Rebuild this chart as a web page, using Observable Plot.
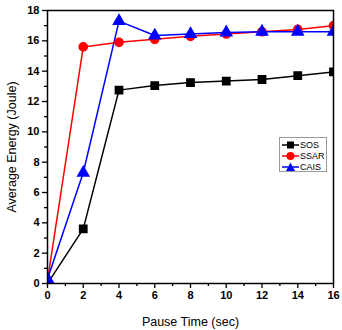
<!DOCTYPE html>
<html><head><meta charset="utf-8">
<script src="https://cdn.jsdelivr.net/npm/d3@7"></script>
<script src="https://cdn.jsdelivr.net/npm/@observablehq/plot@0.6"></script>
<style>
body{margin:0;background:#fff;font-family:"Liberation Sans",Arial,sans-serif}
#wrap{position:relative;width:342px;height:330px}
#legend{position:absolute;left:279px;top:137px;width:48px;height:35px;border:1px solid #999;background:#fff;box-sizing:border-box;padding-top:1px}
.item{display:flex;align-items:center;height:11px;font-size:9px;color:#000}
.item svg{margin-left:2px;margin-right:1px}
</style></head><body><div id="wrap"></div>
<script>
const pauseTimes = [0, 2, 4, 6, 8, 10, 12, 14, 16];
const sos  = [0.0, 3.6, 12.75, 13.05, 13.25, 13.35, 13.45, 13.7, 13.95];
const ssar = [0.2, 15.6, 15.9, 16.1, 16.3, 16.45, 16.6, 16.75, 17.0];
const cais = [0.3, 7.3, 17.3, 16.35, 16.45, 16.55, 16.6, 16.6, 16.6];
const seriesNames = ["SOS", "SSAR", "CAIS"];
const seriesColors = ["black", "red", "blue"];
const seriesSymbols = ["square", "circle", "triangle"];
const xTicks = [0, 2, 4, 6, 8, 10, 12, 14, 16];
const yTicks = [0, 2, 4, 6, 8, 10, 12, 14, 16, 18];

const values = [sos, ssar, cais];
const rows = [];
values.forEach((arr, s) => arr.forEach((v, i) => rows.push({series: seriesNames[s], x: pauseTimes[i], y: v})));

const colorScale = {domain: seriesNames, range: seriesColors};
const symbolScale = {domain: seriesNames, range: seriesSymbols};

const chart = Plot.plot({
  width: 342, height: 330,
  marginLeft: 47, marginRight: 9, marginTop: 10, marginBottom: 47,
  style: {fontFamily: "'Liberation Sans', Arial, sans-serif", background: "white", overflow: "visible"},
  x: {domain: [0, 16]},
  y: {domain: [0, 18]},
  color: colorScale,
  symbol: symbolScale,
  marks: [
    Plot.axisX({ticks: d3.range(1, 16, 2), tickSize: 3, tickFormat: () => "", strokeWidth: 1.3, label: null}),
    Plot.axisY({ticks: d3.range(1, 18, 2), tickSize: 3, tickFormat: () => "", strokeWidth: 1.3, label: null}),
    Plot.axisX({ticks: xTicks, tickSize: 5, tickPadding: 3, strokeWidth: 1.3, fontSize: 11, fontWeight: "bold",
      label: "Pause Time (sec)", labelAnchor: "center", labelOffset: 42, labelArrow: "none"}),
    Plot.axisY({ticks: yTicks, tickSize: 5, tickPadding: 3, strokeWidth: 1.3, fontSize: 11, fontWeight: "bold",
      label: "Average Energy (Joule)", labelAnchor: "center", labelOffset: 40, labelArrow: "none"}),
    Plot.line(rows, {x: "x", y: "y", z: "series", stroke: "series", strokeWidth: 1.5, clip: true}),
    Plot.dot(rows, {x: "x", y: "y", symbol: "series", fill: "series", stroke: "series", r: 4.1, clip: true}),
    Plot.frame({stroke: "black", strokeWidth: 1.5})
  ]
});
chart.querySelectorAll("g[aria-label$='axis label'] text").forEach(t => {
  t.style.fontSize = "12.5px"; t.style.fontWeight = "normal";
  t.textContent = t.textContent.replace(/\s*[↑→←↓]\s*/g, "");
});
document.getElementById("wrap").appendChild(chart);

const legend = document.createElement("div");
legend.id = "legend";
seriesNames.forEach((name, i) => {
  const item = document.createElement("div");
  item.className = "item";
  const c = seriesColors[i];
  let shape;
  if (seriesSymbols[i] === "square") shape = `<rect x="5" y="1.5" width="7" height="7" fill="${c}"/>`;
  else if (seriesSymbols[i] === "circle") shape = `<circle cx="8.5" cy="5" r="4" fill="${c}"/>`;
  else shape = `<path d="M8.5,0.5 L13,9 L4,9 Z" fill="${c}"/>`;
  item.innerHTML = `<svg width="17" height="10"><line x1="0" x2="17" y1="5" y2="5" stroke="${c}" stroke-width="1.5"/>${shape}</svg><span>${name}</span>`;
  legend.appendChild(item);
});
document.getElementById("wrap").appendChild(legend);
</script>
</body></html>
